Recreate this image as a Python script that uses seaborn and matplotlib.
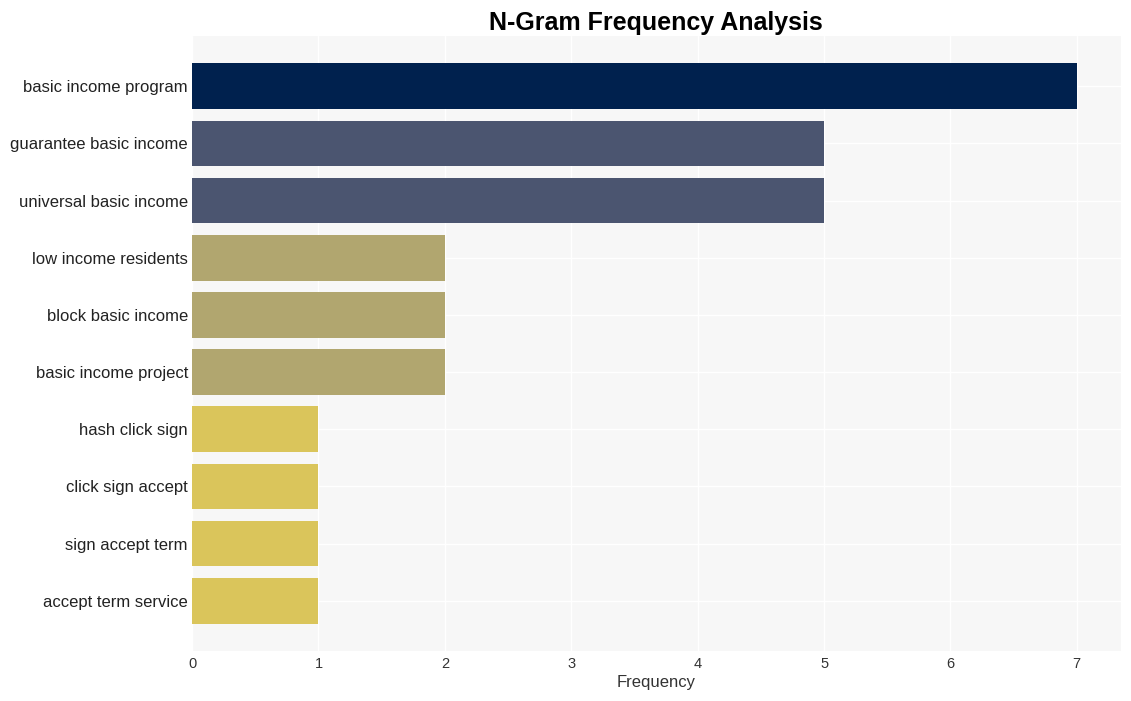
import matplotlib
matplotlib.use("Agg")
import matplotlib.pyplot as plt
import seaborn as sns
import pandas as pd

ngrams = ["basic income program", "guarantee basic income", "universal basic income",
          "low income residents", "block basic income", "basic income project",
          "hash click sign", "click sign accept", "sign accept term", "accept term service"]
counts = [7, 5, 5, 2, 2, 2, 1, 1, 1, 1]

sns.set_theme(style="whitegrid")
plt.rcParams["font.family"] = ["Liberation Sans", "DejaVu Sans"]

df = pd.DataFrame({"ngram": ngrams, "Frequency": counts})
color_map = {7: "#00214e", 5: "#4b5570", 2: "#b1a66f", 1: "#dac55b"}

fig = plt.figure(figsize=(11.31, 7.01), dpi=100)
ax = fig.add_axes([0.1698, 0.0713, 0.8214, 0.8773])
ax.set_facecolor("#f7f7f7")
sns.barplot(data=df, x="Frequency", y="ngram", hue="Frequency", palette=color_map,
            dodge=False, legend=False, width=0.8, ax=ax, saturation=1, linewidth=0)
ax.set_xlim(0, 7.35)
ax.set_ylim(9.88, -0.88)
ax.grid(True, color="white", linewidth=1)
for s in ax.spines.values():
    s.set_visible(False)
ax.set_ylabel("")
ax.set_xlabel("Frequency", fontsize=12, color="#333333", labelpad=3)
ax.tick_params(axis="y", labelsize=12, colors="#222222", length=0, pad=3)
ax.tick_params(axis="x", labelsize=10.5, colors="#333333", length=0, pad=4)
fig.suptitle("N-Gram Frequency Analysis", fontsize=18, fontweight="bold", x=0.58, y=0.985,
             color="black")
fig.savefig("out.png", dpi=100)
